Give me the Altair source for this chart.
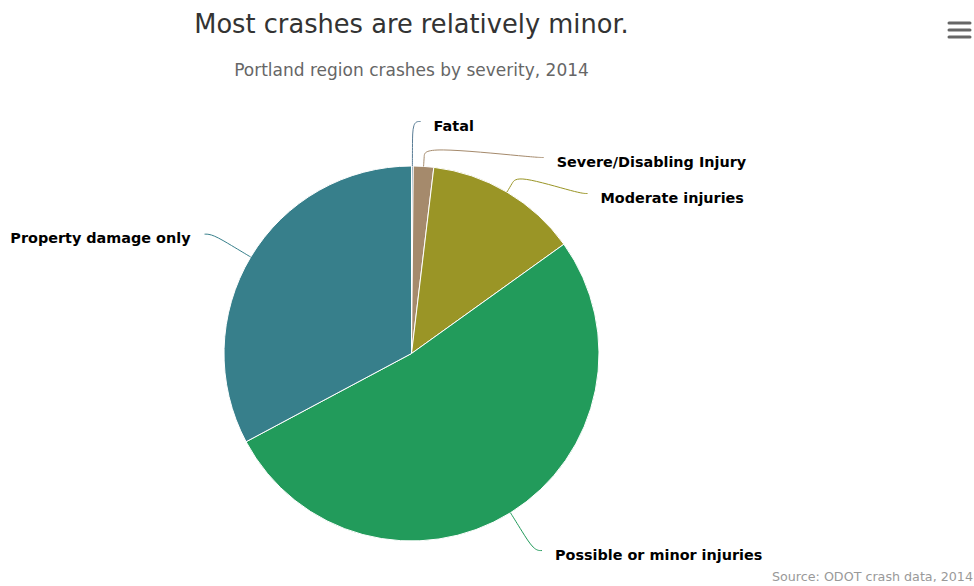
import altair as alt
import numpy as np
import pandas as pd

# ---------------- data ----------------
categories = [
    "Fatal",
    "Severe/Disabling Injury",
    "Moderate injuries",
    "Possible or minor injuries",
    "Property damage only",
]
shares = [0.15, 1.75, 13.2, 52.1, 32.8]  # percent of crashes (estimated)
colors = ["#5a7d96", "#a58a6c", "#9a9526", "#229b5b", "#377f8b"]

title_text = "Most crashes are relatively minor."
subtitle_text = "Portland region crashes by severity, 2014"
credit_text = "Source: ODOT crash data, 2014"

# ---------------- layout constants ----------------
W, H = 974, 586
CX, CY, R_PIE = 411.5, 353.5, 187.5
LABEL_DIST = 44.5
SPACING = 36
FONT = "DejaVu Sans"

# ---------------- derived label geometry (from the data) ----------------
n = len(categories)
vals = np.array(shares, dtype=float)
frac = vals / vals.sum()
a_end = np.cumsum(frac) * 2 * np.pi
a_start = a_end - frac * 2 * np.pi
mid = (a_start + a_end) / 2
RL = R_PIE + LABEL_DIST
nat_x = CX + RL * np.sin(mid)
nat_y = CY - RL * np.cos(mid)
right = np.sin(mid) >= 0
lab_x = nat_x.copy()
lab_y = nat_y.copy()
for side in (True, False):
    idx = sorted([i for i in range(n) if right[i] == side], key=lambda i: nat_y[i])
    prev = -1e9
    for i in idx:
        y = max(nat_y[i], prev + SPACING)
        if y != nat_y[i]:
            dy = y - CY
            lab_x[i] = CX + (1 if side else -1) * np.sqrt(max(RL ** 2 - dy ** 2, 0))
            lab_y[i] = y
        prev = y

pie_df = pd.DataFrame({"category": categories, "share": shares, "idx": list(range(n))})

conn_rows = []
for i in range(n):
    s, c = np.sin(mid[i]), np.cos(mid[i])
    sign = 1 if right[i] else -1
    pts = [
        (CX + R_PIE * s, CY - R_PIE * c),
        (CX + (R_PIE + 10) * s, CY - (R_PIE + 10) * c),
        (CX + (R_PIE + 20) * s, CY - (R_PIE + 20) * c),
        (lab_x[i], lab_y[i]),
        (lab_x[i] + sign * 8, lab_y[i]),
    ]
    for k, (px, py) in enumerate(pts):
        conn_rows.append({"category": categories[i], "pt": k, "px": px, "py": py})
conn_df = pd.DataFrame(conn_rows)

lab_df = pd.DataFrame({
    "category": categories,
    "tx": [lab_x[i] + (21 if right[i] else -22) for i in range(n)],
    "ty": [lab_y[i] + 9 for i in range(n)],
    "right": [bool(r) for r in right],
})

xs = alt.Scale(domain=[0, W], range=[0, W], nice=False, zero=False)
ys = alt.Scale(domain=[0, H], range=[0, H], nice=False, zero=False)
color_scale = alt.Scale(domain=categories, range=colors)

pie = alt.Chart(pie_df).mark_arc(
    outerRadius=R_PIE, stroke="white", strokeWidth=1
).encode(
    theta=alt.Theta("share:Q", stack=True),
    color=alt.Color("category:N", scale=color_scale, legend=None),
    order=alt.Order("idx:Q"),
    x=alt.value(CX),
    y=alt.value(CY),
)

connectors = alt.Chart(conn_df).mark_line(interpolate="basis", strokeWidth=1).encode(
    x=alt.X("px:Q", scale=xs, axis=None),
    y=alt.Y("py:Q", scale=ys, axis=None),
    color=alt.Color("category:N", scale=color_scale, legend=None),
    detail="category:N",
    order=alt.Order("pt:Q"),
)

label_style = dict(baseline="alphabetic", font=FONT, fontSize=14.4, fontWeight="bold", color="#000000")
labels_right = alt.Chart(lab_df).transform_filter("datum.right").mark_text(
    align="left", **label_style
).encode(
    x=alt.X("tx:Q", scale=xs, axis=None),
    y=alt.Y("ty:Q", scale=ys, axis=None),
    text="category:N",
)
labels_left = alt.Chart(lab_df).transform_filter("!datum.right").mark_text(
    align="right", **label_style
).encode(
    x=alt.X("tx:Q", scale=xs, axis=None),
    y=alt.Y("ty:Q", scale=ys, axis=None),
    text="category:N",
)

def text_layer(txt, x, y, size, color, align="center"):
    return alt.Chart(pd.DataFrame({"t": [txt]})).mark_text(
        align=align, baseline="alphabetic", font=FONT, fontSize=size, color=color
    ).encode(text="t:N", x=alt.value(x), y=alt.value(y))

title = text_layer(title_text, CX, 33, 25.7, "#333333")
subtitle = text_layer(subtitle_text, CX, 76, 17, "#666666")
credit = text_layer(credit_text, 973, 581, 12.7, "#999999", align="right")

menu = [
    alt.Chart(pd.DataFrame({"k": [0]})).mark_rule(strokeWidth=3, color="#666666", strokeCap="round").encode(
        x=alt.value(949), x2=alt.value(970), y=alt.value(yy)
    )
    for yy in (23, 30, 37)
]

chart = alt.layer(
    pie, connectors, labels_right, labels_left, title, subtitle, credit, *menu
).properties(
    width=W, height=H, autosize=alt.AutoSizeParams(type="none"), padding=0, background="white"
).configure_view(stroke=None)

chart.save("out.html", embed_options={"renderer": "svg", "actions": False})
